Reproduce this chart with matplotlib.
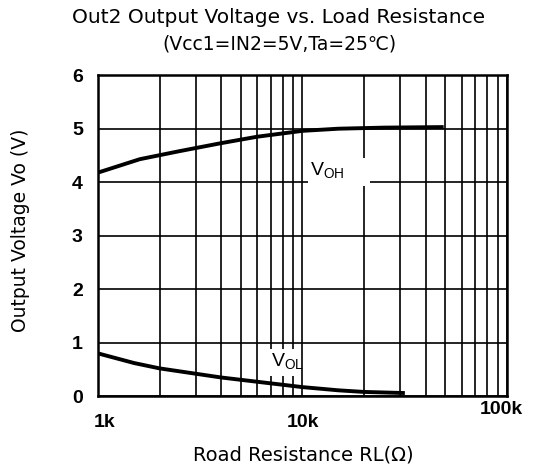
import numpy as np
import matplotlib.pyplot as plt
from matplotlib.patches import Rectangle
from matplotlib.ticker import FixedLocator, NullFormatter
from matplotlib.transforms import ScaledTranslation

# V_OH curve (load resistance in ohms, volts)
voh_r = [1000, 1600, 2500, 4000, 6000, 10000, 15000, 25000, 48000]
voh_v = [4.18, 4.43, 4.58, 4.73, 4.85, 4.96, 5.0, 5.02, 5.03]

# V_OL curve
vol_r = [1000, 1500, 2000, 4000, 7000, 10000, 15000, 20000, 31000]
vol_v = [0.80, 0.62, 0.52, 0.35, 0.24, 0.17, 0.11, 0.08, 0.06]

x_ticks = [1e3, 1e4, 1e5]
x_labels = ['1k', '10k', '100k']
y_ticks = [0, 1, 2, 3, 4, 5, 6]

plt.rcParams['font.family'] = ['DejaVu Sans']

fig = plt.figure(figsize=(5.33, 4.70), dpi=100)
ax = fig.add_axes([0.184, 0.157, 0.767, 0.683])

ax.plot(voh_r, voh_v, color='black', lw=2.8, zorder=3)
ax.plot(vol_r, vol_v, color='black', lw=2.8, zorder=3)

ax.set_xscale('log')
ax.set_xlim(1e3, 1e5)
ax.set_ylim(0, 6)

minor = [m * 10 ** d for d in (3, 4) for m in range(2, 10)]
ax.xaxis.set_minor_locator(FixedLocator(minor))
ax.xaxis.set_minor_formatter(NullFormatter())
ax.set_xticks(x_ticks)
ax.set_xticklabels(x_labels, fontsize=14, fontweight='bold', family='Liberation Sans')
ax.set_yticks(y_ticks)
ax.set_yticklabels([str(v) for v in y_ticks], fontsize=14, fontweight='bold',
                   family='Liberation Sans')
ax.tick_params(axis='x', which='both', length=0, pad=13)
ax.tick_params(axis='y', which='both', length=0, pad=11)

# scanned original has the end labels a little off
xl = ax.get_xticklabels()
xl[0].set_transform(xl[0].get_transform() + ScaledTranslation(0.06, 0, fig.dpi_scale_trans))
xl[2].set_transform(xl[2].get_transform() + ScaledTranslation(-0.06, 0.13, fig.dpi_scale_trans))

ax.grid(True, which='both', axis='x', color='black', lw=1.2)
ax.grid(True, which='major', axis='y', color='black', lw=1.2)
for s in ax.spines.values():
    s.set_linewidth(1.8)

# white patches behind the curve labels
ax.add_patch(Rectangle((10600, 3.93), 21400 - 10600, 0.52, facecolor='white',
                       edgecolor='none', zorder=2.5))
ax.add_patch(Rectangle((6650, 0.37), 9700 - 6650, 0.52, facecolor='white',
                       edgecolor='none', zorder=2.5))
ax.text(13200, 4.22, r'V$_{\mathregular{OH}}$', fontsize=14, ha='center', va='center',
        family='Liberation Sans', zorder=4)
ax.text(8400, 0.65, r'V$_{\mathregular{OL}}$', fontsize=14, ha='center', va='center',
        family='Liberation Sans', zorder=4)

fig.text(0.523, 0.962, 'Out2 Output Voltage vs. Load Resistance', fontsize=14.5,
         ha='center', va='center')
fig.text(0.525, 0.906, '(Vcc1=IN2=5V,Ta=25\u2103)', fontsize=13.5,
         ha='center', va='center')
fig.text(0.570, 0.032, 'Road Resistance RL(\u03a9)', fontsize=14,
         ha='center', va='center')
fig.text(0.038, 0.509, 'Output Voltage Vo (V)', fontsize=13.5, rotation=90,
         ha='center', va='center')

fig.savefig('out.png', dpi=100)
